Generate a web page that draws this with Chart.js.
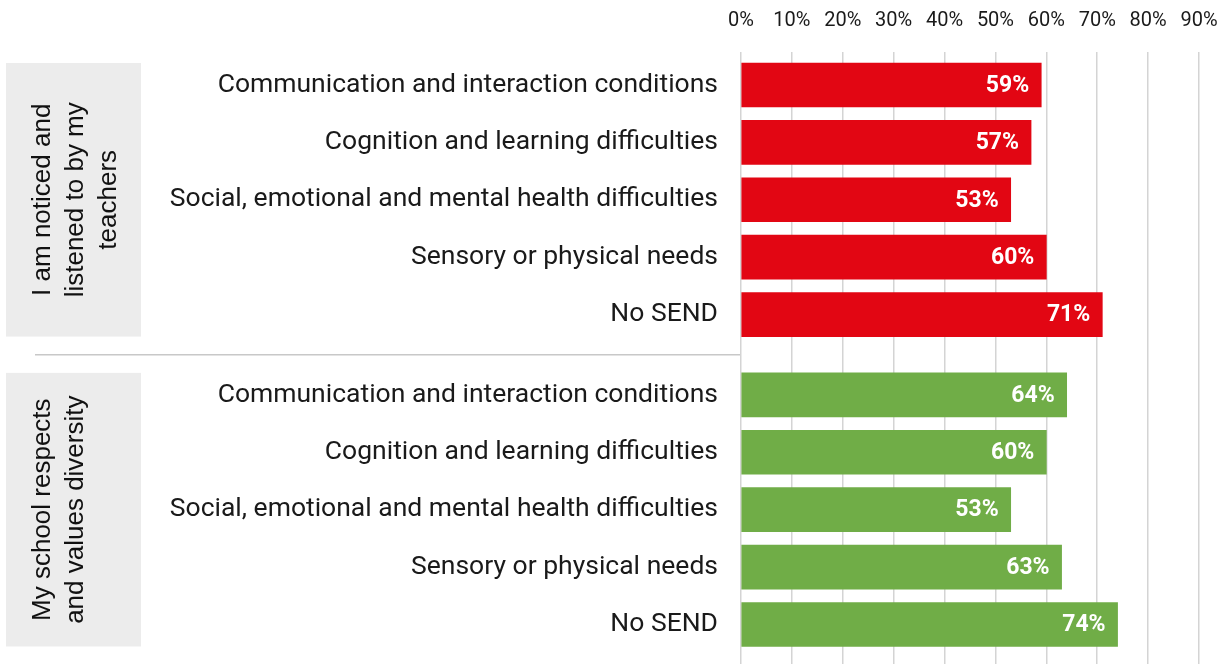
<!DOCTYPE html>
<html>
<head>
<meta charset="utf-8">
<script src="https://cdn.jsdelivr.net/npm/chart.js@4.4.1/dist/chart.umd.min.js"></script>
<style>
  html, body { margin: 0; padding: 0; background: #fff; }
  #wrap { width: 1227px; height: 664px; }
</style>
</head>
<body>
<div id="wrap"><canvas id="sendChart"></canvas></div>
<script>
const categories = [
  'Communication and interaction conditions',
  'Cognition and learning difficulties',
  'Social, emotional and mental health difficulties',
  'Sensory or physical needs',
  'No SEND'
];
const groups = [
  ['I am noticed and', 'listened to by my', 'teachers'],
  ['My school respects', 'and values diversity']
];
const noticedValues = [59, 57, 53, 60, 71];
const diversityValues = [64, 60, 53, 63, 74];
const xTicks = [0, 10, 20, 30, 40, 50, 60, 70, 80, 90];

// rows of the second group sit a bit further down
const GROUP_GAP = 1.4;
const redPos = categories.map((c, i) => i);
const greenPos = categories.map((c, i) => i + categories.length - 1 + GROUP_GAP);
const allPos = redPos.concat(greenPos);
const allLabels = categories.concat(categories);

const BAR = 44;

const groupBoxes = {
  id: 'groupBoxes',
  beforeDraw(chart) {
    const { ctx } = chart;
    const y = chart.scales.y;
    const spans = [redPos, greenPos];
    ctx.save();
    spans.forEach((pos, g) => {
      const top = y.getPixelForValue(pos[0]) - BAR / 2;
      const bottom = y.getPixelForValue(pos[pos.length - 1]) + BAR / 2;
      ctx.fillStyle = '#ececec';
      ctx.fillRect(6, top, 135, bottom - top);
      ctx.save();
      ctx.translate(0, (top + bottom) / 2);
      ctx.rotate(-Math.PI / 2);
      ctx.fillStyle = '#111';
      ctx.font = '26px "Liberation Sans", Arial, sans-serif';
      ctx.textAlign = 'center';
      ctx.textBaseline = 'middle';
      groups[g].forEach((line, k) => ctx.fillText(line, 0, 43 + k * 33));
      ctx.restore();
    });
    const sep = y.getPixelForValue((redPos[redPos.length - 1] + greenPos[0]) / 2);
    ctx.strokeStyle = '#c8c8c8';
    ctx.lineWidth = 1.5;
    ctx.beginPath();
    ctx.moveTo(35, sep);
    ctx.lineTo(chart.chartArea.left, sep);
    ctx.stroke();
    ctx.restore();
  }
};

const valueLabels = {
  id: 'valueLabels',
  afterDatasetsDraw(chart) {
    const { ctx } = chart;
    ctx.save();
    ctx.fillStyle = '#fff';
    ctx.font = 'bold 23px Roboto';
    ctx.textAlign = 'right';
    ctx.textBaseline = 'middle';
    chart.data.datasets.forEach((ds, di) => {
      chart.getDatasetMeta(di).data.forEach((bar, i) => {
        ctx.fillText(ds.data[i].x + '%', bar.x - 12, bar.y + 1);
      });
    });
    ctx.restore();
  }
};

const ctx = document.getElementById('sendChart').getContext('2d');
new Chart(ctx, {
  type: 'bar',
  data: {
    datasets: [{
      label: 'I am noticed and listened to by my teachers',
      data: noticedValues.map((v, i) => ({ x: v, y: redPos[i] })),
      backgroundColor: '#e20613',
      barThickness: BAR
    }, {
      label: 'My school respects and values diversity',
      data: diversityValues.map((v, i) => ({ x: v, y: greenPos[i] })),
      backgroundColor: '#70ad47',
      barThickness: BAR
    }]
  },
  options: {
    indexAxis: 'y',
    responsive: true,
    maintainAspectRatio: false,
    animation: false,
    grouped: false,
    layout: { padding: { left: 0, right: 28, top: 0, bottom: 0 } },
    plugins: {
      legend: { display: false },
      tooltip: { enabled: false }
    },
    scales: {
      x: {
        position: 'top',
        min: 0,
        max: 90,
        afterBuildTicks: (s) => { s.ticks = xTicks.map(v => ({ value: v })); },
        afterFit: (s) => {
          s.height = 52;
          s.paddingLeft = 0;
          s.paddingRight = 0;
        },
        ticks: {
          callback: (v) => v + '%',
          font: { family: 'Roboto', size: 20 },
          color: '#1a1a1a',
          padding: 19
        },
        grid: { color: '#d4d4d4', lineWidth: 1.5, drawTicks: false },
        border: { display: false }
      },
      y: {
        type: 'linear',
        reverse: true,
        offset: false,
        min: -0.575,
        max: 10.089,
        afterBuildTicks: (s) => { s.ticks = allPos.map(v => ({ value: v })); },
        afterFit: (s) => {
          s.width = 741;
          s.paddingTop = 0;
          s.paddingBottom = 0;
        },
        ticks: {
          autoSkip: false,
          callback: (v, i) => allLabels[i],
          font: { family: 'Roboto', size: 26.5 },
          color: '#1a1a1a',
          padding: 15
        },
        grid: { display: false },
        border: { display: false }
      }
    }
  },
  plugins: [groupBoxes, valueLabels]
});
</script>
</body>
</html>
